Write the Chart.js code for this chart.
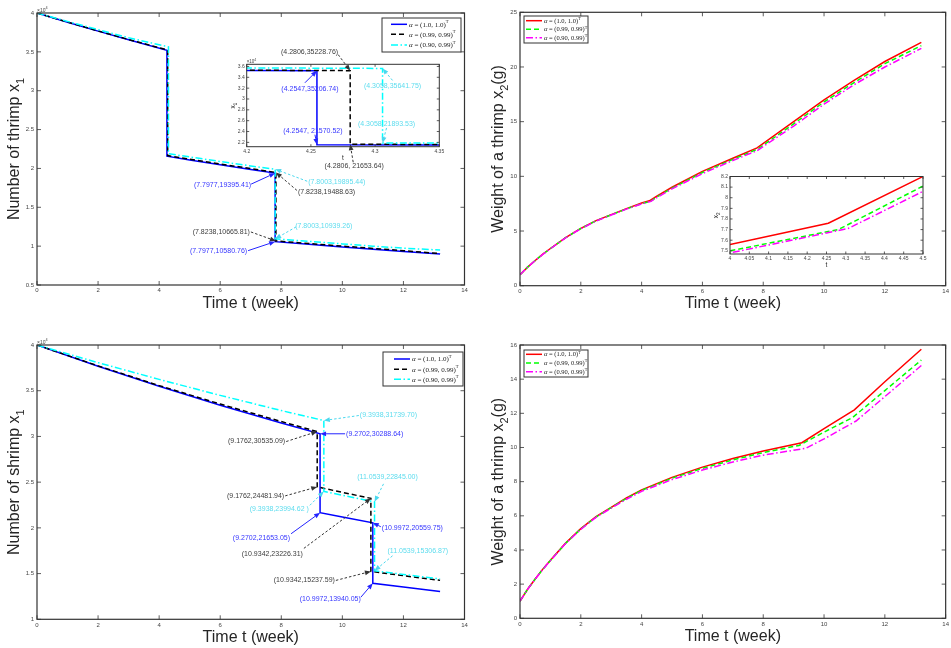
<!DOCTYPE html>
<html>
<head>
<meta charset="utf-8">
<script src="https://cdn.jsdelivr.net/npm/chart.js@4.4.0/dist/chart.umd.min.js"></script>
<style>
  html, body { margin: 0; padding: 0; background: #fff; }
  #page { position: relative; width: 951px; height: 648px; overflow: hidden; }
  #page canvas { position: absolute; left: 0; top: 0; }
</style>
</head>
<body>
<div id="page">
  <canvas id="cTL" width="951" height="648"></canvas>
  <canvas id="cTR" width="951" height="648"></canvas>
  <canvas id="cBL" width="951" height="648"></canvas>
  <canvas id="cBR" width="951" height="648"></canvas>
  <canvas id="cTLi" width="951" height="648"></canvas>
  <canvas id="cTRi" width="951" height="648"></canvas>
</div>
<script>
// ---- scenario 1 (top row): number of shrimp x1 ----
const t1Blue  = [0, 1, 2, 3, 4.2547, 4.2547, 5, 6, 7, 7.7977, 7.7977, 9, 10, 11, 12, 13.2];
const x1Blue  = [40000, 38820, 37670, 36560, 35206.74, 21570.52, 21090, 20470, 19860, 19395.41, 10580.76, 10200, 9900, 9610, 9320, 9000];
const t1Black = [0, 1, 2, 3, 4.2806, 4.2806, 5, 6, 7, 7.8238, 7.8238, 9, 10, 11, 12, 13.2];
const x1Black = [40000, 38830, 37690, 36590, 35228.76, 21653.64, 21190, 20570, 19980, 19488.63, 10665.81, 10300, 10000, 9710, 9420, 9050];
const t1Cyan  = [0, 1, 2, 3, 4.3058, 4.3058, 5, 6, 7, 7.8003, 7.8003, 9, 10, 11, 12, 13.2];
const x1Cyan  = [40000, 38920, 37860, 36820, 35641.75, 21893.53, 21480, 20890, 20320, 19895.44, 10939.26, 10580, 10290, 10000, 9740, 9500];

// ---- scenario 1: weight x2 ----
const t1Red   = [0, 0.25, 0.5, 0.75, 1, 1.5, 2, 2.5, 3, 3.5, 4, 4.2547, 4.5, 5, 6, 7, 7.7977, 9, 10, 11, 12, 13.2];
const w1Red   = [1, 1.7, 2.3, 2.88, 3.4, 4.4, 5.25, 5.95, 6.5, 7.05, 7.56, 7.76, 8.2, 9.0, 10.45, 11.65, 12.6, 15.0, 17.0, 18.8, 20.5, 22.25];
const t1Green = [0, 0.25, 0.5, 0.75, 1, 1.5, 2, 2.5, 3, 3.5, 4, 4.2806, 4.5, 5, 6, 7, 7.8238, 9, 10, 11, 12, 13.2];
const w1Green = [1, 1.7, 2.3, 2.87, 3.39, 4.39, 5.23, 5.93, 6.48, 7.02, 7.5, 7.7, 8.11, 8.92, 10.35, 11.55, 12.5, 14.8, 16.8, 18.6, 20.3, 21.95];
const t1Mag   = [0, 0.25, 0.5, 0.75, 1, 1.5, 2, 2.5, 3, 3.5, 4, 4.3058, 4.5, 5, 6, 7, 7.8003, 9, 10, 11, 12, 13.2];
const w1Mag   = [1, 1.7, 2.3, 2.86, 3.38, 4.38, 5.21, 5.91, 6.46, 7.0, 7.48, 7.71, 8.06, 8.85, 10.25, 11.45, 12.35, 14.6, 16.6, 18.4, 20.0, 21.7];

// ---- scenario 2 (bottom row): number of shrimp x1 ----
const t2Blue  = [0, 2, 4, 6, 8, 9.2702, 9.2702, 10, 10.9972, 10.9972, 12, 13.2];
const x2Blue  = [40000, 37670, 35480, 33410, 31470, 30288.64, 21653.05, 21180, 20559.75, 13940.05, 13530, 13050];
const t2Black = [0, 2, 4, 6, 8, 9.1762, 9.1762, 10, 10.9342, 10.9342, 12, 13.2];
const x2Black = [40000, 37720, 35560, 33540, 31630, 30535.09, 24481.94, 23880, 23226.31, 15237.59, 14770, 14260];
const t2Cyan  = [0, 2, 4, 6, 8, 9.3938, 9.3938, 10, 11.0539, 11.0539, 12, 13.2];
const x2Cyan  = [40000, 38070, 36240, 34490, 32830, 31739.70, 23994.62, 23570, 22845.00, 15306.87, 14910, 14410];

// ---- scenario 2: weight x2 ----
const t2Red   = [0, 0.25, 0.5, 0.75, 1, 1.5, 2, 2.5, 3, 3.5, 4, 5, 6, 7, 8, 9.2702, 10, 10.9972, 12, 13.2];
const w2Red   = [1, 1.7, 2.3, 2.88, 3.4, 4.4, 5.25, 5.95, 6.5, 7.05, 7.52, 8.25, 8.85, 9.35, 9.8, 10.28, 11.1, 12.2, 13.85, 15.75];
const t2Green = [0, 0.25, 0.5, 0.75, 1, 1.5, 2, 2.5, 3, 3.5, 4, 5, 6, 7, 8, 9.1762, 10, 10.9342, 12, 13.2];
const w2Green = [1, 1.7, 2.3, 2.87, 3.39, 4.39, 5.23, 5.93, 6.48, 7.02, 7.49, 8.2, 8.78, 9.27, 9.7, 10.12, 10.9, 11.75, 13.33, 15.12];
const t2Mag   = [0, 0.25, 0.5, 0.75, 1, 1.5, 2, 2.5, 3, 3.5, 4, 5, 6, 7, 8, 9.3938, 10, 11.0539, 12, 13.2];
const w2Mag   = [1, 1.7, 2.3, 2.86, 3.38, 4.38, 5.21, 5.91, 6.45, 6.97, 7.43, 8.12, 8.68, 9.15, 9.55, 9.95, 10.5, 11.55, 12.98, 14.8];

// ---- tick values ----
const tTicks      = [0, 2, 4, 6, 8, 10, 12, 14];
const n1Ticks     = [5000, 10000, 15000, 20000, 25000, 30000, 35000, 40000];
const w1Ticks     = [0, 5, 10, 15, 20, 25];
const n2Ticks     = [10000, 15000, 20000, 25000, 30000, 35000, 40000];
const w2Ticks     = [0, 2, 4, 6, 8, 10, 12, 14, 16];
const inNtTicks   = [4.2, 4.25, 4.3, 4.35];
const inNTicks    = [22000, 24000, 26000, 28000, 30000, 32000, 34000, 36000];
const inWtTicks   = [4, 4.05, 4.1, 4.15, 4.2, 4.25, 4.3, 4.35, 4.4, 4.45, 4.5];
const inWTicks    = [7.5, 7.6, 7.7, 7.8, 7.9, 8, 8.1, 8.2];

const alphaLabels = ['(1.0, 1.0)', '(0.99, 0.99)', '(0.90, 0.99)'];

// ---- annotation labels (tip = data point, offsets in px) ----
const notesTL = [
  { t: 7.7977, v: 19395.41, text: '(7.7977,19395.41)', c: 'blue',  tail: [-24, 11], at: [-24, 12], align: 'right' },
  { t: 7.8003, v: 19895.44, text: '(7.8003,19895.44)', c: 'cyan',  tail: [32, 12],  at: [33, 13],  align: 'left' },
  { t: 7.8238, v: 19488.63, text: '(7.8238,19488.63)', c: 'black', tail: [21, 18],  at: [22, 20],  align: 'left' },
  { t: 7.8238, v: 10665.81, text: '(7.8238,10665.81)', c: 'black', tail: [-25, -9], at: [-26, -9], align: 'right' },
  { t: 7.7977, v: 10580.76, text: '(7.7977,10580.76)', c: 'blue',  tail: [-27, 9],  at: [-28, 9],  align: 'right' },
  { t: 7.8003, v: 10939.26, text: '(7.8003,10939.26)', c: 'cyan',  tail: [21, -12], at: [20, -13], align: 'left' }
];
const notesTLi = [
  { t: 4.2806, v: 35228.76, text: '(4.2806,35228.76)',  c: 'black', tail: [-12, -16], at: [-12, -19], align: 'right' },
  { t: 4.2547, v: 35206.74, text: '(4.2547,35206.74)',  c: 'blue',  tail: [-12, 12],  at: [-7, 18],   align: 'center' },
  { t: 4.3058, v: 35641.75, text: '(4.3058,35641.75)',  c: 'cyan',  tail: [10, 12],   at: [10, 18],   align: 'center' },
  { t: 4.2547, v: 21570.52, text: '(4.2547, 21570.52)', c: 'blue',  tail: [-2, -10],  at: [-4, -14],  align: 'center' },
  { t: 4.3058, v: 21893.53, text: '(4.3058,21893.53)',  c: 'cyan',  tail: [4, -15],   at: [4, -19],   align: 'center' },
  { t: 4.2806, v: 21653.64, text: '(4.2806, 21653.64)', c: 'black', tail: [3, 18],    at: [4, 22],    align: 'center' }
];
const notesBL = [
  { t: 9.3938,  v: 31739.70, text: '(9.3938,31739.70)',   c: 'cyan',  tail: [35, -5],  at: [36, -5],  align: 'left' },
  { t: 9.2702,  v: 30288.64, text: '(9.2702,30288.64)',   c: 'blue',  tail: [25, 0],   at: [26, 0],   align: 'left' },
  { t: 9.1762,  v: 30535.09, text: '(9.1762,30535.09)',   c: 'black', tail: [-31, 10], at: [-32, 10], align: 'right' },
  { t: 9.1762,  v: 24481.94, text: '(9.1762,24481.94)',   c: 'black', tail: [-32, 9],  at: [-33, 9],  align: 'right' },
  { t: 9.3938,  v: 23994.62, text: '(9.3938,23994.62 )',  c: 'cyan',  tail: [-14, 14], at: [-15, 18], align: 'right' },
  { t: 9.2702,  v: 21653.05, text: '(9.2702,21653.05)',   c: 'blue',  tail: [-29, 21], at: [-30, 25], align: 'right' },
  { t: 10.9342, v: 23226.31, text: '(10.9342,23226.31)',  c: 'black', tail: [-67, 50], at: [-68, 56], align: 'right' },
  { t: 11.0539, v: 22845.00, text: '(11.0539,22845.00)',  c: 'cyan',  tail: [9, -18],  at: [13, -25], align: 'center' },
  { t: 10.9972, v: 20559.75, text: '(10.9972,20559.75)',  c: 'blue',  tail: [8, 4],    at: [9, 5],    align: 'left' },
  { t: 11.0539, v: 15306.87, text: '(11.0539,15306.87)',  c: 'cyan',  tail: [18, -15], at: [13, -20], align: 'left' },
  { t: 10.9342, v: 15237.59, text: '(10.9342,15237.59)',  c: 'black', tail: [-35, 9],  at: [-36, 9],  align: 'right' },
  { t: 10.9972, v: 13940.05, text: '(10.9972,13940.05)',  c: 'blue',  tail: [-12, 14], at: [-12, 16], align: 'right' }
];

const PAGE_W = 951, PAGE_H = 648;
const FONT = "'Liberation Sans', Arial, Helvetica, sans-serif";
const SERIF = "'Liberation Serif', 'Times New Roman', serif";
const SOLID = [], DASH = [5, 3], DASHDOT = [7, 2.5, 1.5, 2.5];
const noteStyle = {
  blue:  { text: '#3636ff', arrow: '#2424ff', dash: false },
  black: { text: '#3c3c3c', arrow: '#333333', dash: true },
  cyan:  { text: '#5cdcee', arrow: '#4ad8ee', dash: true }
};

function pts(t, v) { return t.map((x, i) => ({ x: x, y: v[i] })); }

function series(t, v, color, dash, order) {
  return { data: pts(t, v), borderColor: color, borderWidth: 1.5, borderDash: dash,
           pointRadius: 0, fill: false, tension: 0, order: order, clip: 0 };
}

function fontOf(p) { return (p[4] || '') + ' ' + p[1] + 'px ' + (p[3] || FONT); }

// draw text made of parts [text, size, dy, family, style]
function rich(ctx, parts, x, y, align) {
  let total = 0;
  parts.forEach(p => { ctx.font = fontOf(p); total += ctx.measureText(p[0]).width; });
  let cx = align === 'right' ? x - total : align === 'center' ? x - total / 2 : x;
  ctx.textAlign = 'left';
  parts.forEach(p => {
    ctx.font = fontOf(p);
    ctx.fillText(p[0], cx, y + (p[2] || 0));
    cx += ctx.measureText(p[0]).width;
  });
}

function arrow(ctx, x0, y0, x1, y1, color, dashed) {
  const ang = Math.atan2(y1 - y0, x1 - x0);
  const hl = 6, hw = 2.4;
  const bx = x1 - hl * Math.cos(ang), by = y1 - hl * Math.sin(ang);
  ctx.strokeStyle = color;
  ctx.fillStyle = color;
  ctx.lineWidth = 1;
  ctx.setLineDash(dashed ? [2.5, 2] : []);
  ctx.beginPath(); ctx.moveTo(x0, y0); ctx.lineTo(bx, by); ctx.stroke();
  ctx.setLineDash([]);
  ctx.beginPath();
  ctx.moveTo(x1, y1);
  ctx.lineTo(bx + hw * Math.sin(ang), by - hw * Math.cos(ang));
  ctx.lineTo(bx - hw * Math.sin(ang), by + hw * Math.cos(ang));
  ctx.closePath(); ctx.fill();
}

// matlab-like decorations: box, inner ticks, titles, legend, arrows
function deco(cfg) {
  return {
    id: 'deco',
    beforeDraw(chart) {
      if (!cfg.inset) return;
      const a = chart.chartArea, ctx = chart.ctx;
      ctx.save();
      ctx.fillStyle = '#fff';
      ctx.fillRect(a.left - 16, a.top - 5, a.right - a.left + 19, a.bottom - a.top + 19);
      ctx.restore();
    },
    afterDatasetsDraw(chart) {
      const ctx = chart.ctx, a = chart.chartArea, xs = chart.scales.x, ys = chart.scales.y;
      const L = cfg.inset ? 2.5 : 4;
      ctx.save();
      ctx.strokeStyle = '#333';
      ctx.lineWidth = cfg.inset ? 1 : 1.2;
      ctx.strokeRect(a.left, a.top, a.right - a.left, a.bottom - a.top);
      ctx.lineWidth = 0.8;
      ctx.beginPath();
      xs.ticks.forEach(tk => {
        const p = xs.getPixelForValue(tk.value);
        ctx.moveTo(p, a.bottom); ctx.lineTo(p, a.bottom - L);
        ctx.moveTo(p, a.top); ctx.lineTo(p, a.top + L);
      });
      ys.ticks.forEach(tk => {
        const p = ys.getPixelForValue(tk.value);
        ctx.moveTo(a.left, p); ctx.lineTo(a.left + L, p);
        ctx.moveTo(a.right, p); ctx.lineTo(a.right - L, p);
      });
      ctx.stroke();

      ctx.fillStyle = '#262626';
      ctx.textBaseline = 'alphabetic';
      const cyMid = (a.top + a.bottom) / 2, cxMid = (a.left + a.right) / 2;
      // axis titles
      if (cfg.xTitle) rich(ctx, cfg.xTitle, cxMid, a.bottom + cfg.xTitleDy, 'center');
      if (cfg.yTitle) {
        ctx.save();
        ctx.translate(a.left - cfg.yTitleDx, cyMid);
        ctx.rotate(-Math.PI / 2);
        rich(ctx, cfg.yTitle, 0, 0, 'center');
        ctx.restore();
      }
      if (cfg.exponent) {
        ctx.fillStyle = '#444';
        rich(ctx, cfg.exponent, a.left, a.top - 1.5, 'left');
      }
      // legend
      if (cfg.legend) {
        const lg = cfg.legend, b = lg.box;
        ctx.fillStyle = '#fff';
        ctx.fillRect(b[0], b[1], b[2] - b[0], b[3] - b[1]);
        ctx.strokeStyle = '#333'; ctx.lineWidth = 1;
        ctx.strokeRect(b[0], b[1], b[2] - b[0], b[3] - b[1]);
        lg.items.forEach((it, i) => {
          const y = lg.rows[i];
          ctx.strokeStyle = it.color; ctx.lineWidth = 1.5; ctx.setLineDash(it.dash);
          ctx.beginPath(); ctx.moveTo(lg.sx[0], y); ctx.lineTo(lg.sx[1], y); ctx.stroke();
          ctx.setLineDash([]);
          ctx.fillStyle = '#222';
          const s = lg.size;
          rich(ctx, [['α', s, 0, SERIF, 'italic'], [' = ' + alphaLabels[i], s, 0, SERIF], ['T', s * 0.65, -s * 0.45, SERIF]], lg.tx, y + s * 0.33, 'left');
        });
      }
      // arrows with labels
      (cfg.notes || []).forEach(n => {
        const st = noteStyle[n.c];
        const px = xs.getPixelForValue(n.t), py = ys.getPixelForValue(n.v);
        arrow(ctx, px + n.tail[0], py + n.tail[1], px, py, st.arrow, st.dash);
        ctx.fillStyle = st.text;
        ctx.textBaseline = 'middle';
        rich(ctx, [[n.text, 7]], px + n.at[0], py + n.at[1], n.align);
        ctx.textBaseline = 'alphabetic';
      });
      ctx.restore();
    }
  };
}

function makeChart(id, area, ax, datasets, cfg) {
  const fmt = v => String(parseFloat(v.toFixed(4)));
  const tickFont = { family: FONT, size: ax.fs };
  return new Chart(document.getElementById(id), {
    type: 'line',
    data: { datasets: datasets },
    options: {
      responsive: false,
      animation: false,
      events: [],
      layout: {
        autoPadding: false,
        padding: { left: area.l - ax.yW, top: area.t, right: PAGE_W - area.r, bottom: PAGE_H - area.b - ax.xH }
      },
      plugins: { legend: { display: false }, tooltip: { enabled: false } },
      scales: {
        x: {
          type: 'linear', min: ax.x[0], max: ax.x[1],
          afterBuildTicks: s => { s.ticks = ax.x[2].map(v => ({ value: v })); },
          afterFit: s => { s.height = ax.xH; },
          grid: { display: false, drawTicks: false }, border: { display: false },
          ticks: { font: tickFont, color: '#454545', padding: ax.xpad, maxRotation: 0, autoSkip: false, callback: v => fmt(v) }
        },
        y: {
          type: 'linear', min: ax.y[0], max: ax.y[1],
          afterBuildTicks: s => { s.ticks = ax.y[2].map(v => ({ value: v })); },
          afterFit: s => { s.width = ax.yW; },
          grid: { display: false, drawTicks: false }, border: { display: false },
          ticks: { font: tickFont, color: '#454545', padding: ax.ypad, autoSkip: false, callback: v => fmt(v / ax.ydiv) }
        }
      }
    },
    plugins: [deco(cfg)]
  });
}

const numberSets = (tb, xb, tk, xk, tc, xc) => [
  series(tb, xb, '#0000ff', SOLID, 3),
  series(tk, xk, '#000000', DASH, 2),
  series(tc, xc, '#00ffff', DASHDOT, 1)
];
const weightSets = (tr, wr, tg, wg, tm, wm) => [
  series(tr, wr, '#ff0000', SOLID, 3),
  series(tg, wg, '#00ff00', DASH, 2),
  series(tm, wm, '#ff00ff', DASHDOT, 1)
];
const numberLegend = [
  { color: '#0000ff', dash: SOLID }, { color: '#000000', dash: DASH }, { color: '#00ffff', dash: DASHDOT }
];
const weightLegend = [
  { color: '#ff0000', dash: SOLID }, { color: '#00ff00', dash: DASH }, { color: '#ff00ff', dash: DASHDOT }
];
const expParts = [['×10', 5, 0], ['4', 3.8, -2.5]];
const timeTitle = [['Time t (week)', 16]];
const weightTitle = [['Weight of a thrimp x', 16, 0], ['2', 11, 5], ['(g)', 16, 0]];
const mainAx = { fs: 6, xpad: 2, ypad: 3, yW: 20, xH: 10 };

// top-left: number of shrimp, scenario 1
makeChart('cTL', { l: 37, t: 13, r: 464.5, b: 285 },
  Object.assign({ x: [0, 14, tTicks], y: [5000, 40000, n1Ticks], ydiv: 10000 }, mainAx),
  numberSets(t1Blue, x1Blue, t1Black, x1Black, t1Cyan, x1Cyan),
  { xTitle: timeTitle, xTitleDy: 22.5, yTitle: [['Number of thrimp x', 16, 0], ['1', 11, 5]], yTitleDx: 18,
    exponent: expParts,
    legend: { box: [382, 18, 461, 52], sx: [391, 407], tx: 409, rows: [24.3, 34.3, 45], size: 7, items: numberLegend },
    notes: notesTL });

// top-right: weight, scenario 1
makeChart('cTR', { l: 520, t: 12.3, r: 948.3, b: 285.7 },
  Object.assign({ x: [0, 14, tTicks], y: [0, 25, w1Ticks], ydiv: 1 }, mainAx),
  weightSets(t1Red, w1Red, t1Green, w1Green, t1Mag, w1Mag),
  { xTitle: timeTitle, xTitleDy: 22, yTitle: weightTitle, yTitleDx: 17,
    legend: { box: [524, 16, 588, 43], sx: [526, 542], tx: 544, rows: [20.7, 29.3, 37.7], size: 6.5, items: weightLegend } });

// bottom-left: number of shrimp, scenario 2
makeChart('cBL', { l: 37, t: 345, r: 464.5, b: 619.3 },
  Object.assign({ x: [0, 14, tTicks], y: [10000, 40000, n2Ticks], ydiv: 10000 }, mainAx),
  numberSets(t2Blue, x2Blue, t2Black, x2Black, t2Cyan, x2Cyan),
  { xTitle: timeTitle, xTitleDy: 22.5, yTitle: [['Number of shrimp x', 16, 0], ['1', 11, 5]], yTitleDx: 18,
    exponent: expParts,
    legend: { box: [383, 352, 463, 386], sx: [394, 410], tx: 412, rows: [359, 369.3, 379.3], size: 7, items: numberLegend },
    notes: notesBL });

// bottom-right: weight, scenario 2
makeChart('cBR', { l: 520, t: 345, r: 948.3, b: 618.3 },
  Object.assign({ x: [0, 14, tTicks], y: [0, 16, w2Ticks], ydiv: 1 }, mainAx),
  weightSets(t2Red, w2Red, t2Green, w2Green, t2Mag, w2Mag),
  { xTitle: timeTitle, xTitleDy: 23, yTitle: weightTitle, yTitleDx: 17,
    legend: { box: [524, 350, 588, 377], sx: [526, 542], tx: 544, rows: [354.3, 363, 371.7], size: 6.5, items: weightLegend } });

// inset in top-left: zoom on first harvest
makeChart('cTLi', { l: 246.7, t: 64.3, r: 439.3, b: 146.7 },
  { x: [4.2, 4.35, inNtTicks], y: [21200, 36400, inNTicks], ydiv: 10000, fs: 5, xpad: 2, ypad: 2, yW: 12, xH: 8 },
  numberSets(t1Blue, x1Blue, t1Black, x1Black, t1Cyan, x1Cyan),
  { inset: true, xTitle: [['t', 6.5]], xTitleDy: 13, yTitle: [['x', 6.5, 0], ['1', 4.5, 2]], yTitleDx: 12,
    exponent: [['×10', 4.5, 0], ['4', 3.5, -2]], notes: notesTLi });

// inset in top-right: zoom on weight kink
makeChart('cTRi', { l: 730, t: 176.5, r: 923, b: 254 },
  { x: [4, 4.5, inWtTicks], y: [7.47, 8.2, inWTicks], ydiv: 1, fs: 5, xpad: 2, ypad: 2, yW: 12, xH: 8 },
  weightSets(t1Red, w1Red, t1Green, w1Green, t1Mag, w1Mag),
  { inset: true, xTitle: [['t', 6.5]], xTitleDy: 13, yTitle: [['x', 6.5, 0], ['2', 4.5, 2]], yTitleDx: 12 });
</script>
</body>
</html>
